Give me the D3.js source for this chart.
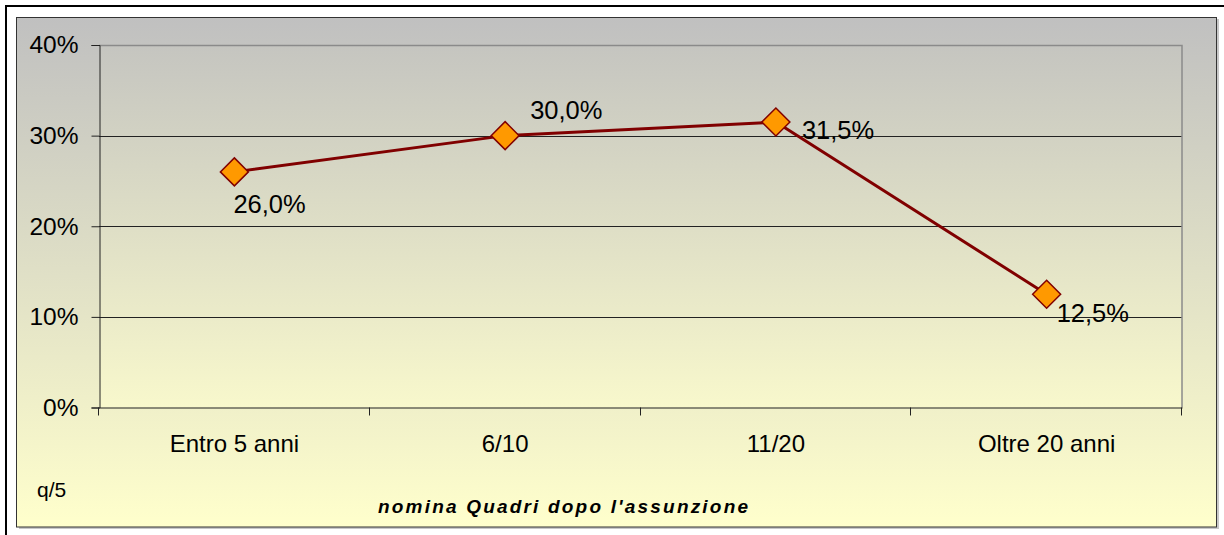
<!DOCTYPE html>
<html><head><meta charset="utf-8">
<script src="https://cdn.jsdelivr.net/npm/d3@7"></script>
<style>body{margin:0;background:#fff;}svg{display:block;}</style>
</head><body>
<script>
const categories = ["Entro 5 anni", "6/10", "11/20", "Oltre 20 anni"];
const values = [26.0, 30.0, 31.5, 12.5];
const dataLabels = ["26,0%", "30,0%", "31,5%", "12,5%"];
const yTicks = [0, 10, 20, 30, 40];
const yTickLabels = ["0%", "10%", "20%", "30%", "40%"];
const titleText = "nomina Quadri dopo l'assunzione";
const noteText = "q/5";

const FONT = "Liberation Sans, Arial, sans-serif";
const W = 1224, H = 535;
const svg = d3.select("body").append("svg").attr("width", W).attr("height", H);
const defs = svg.append("defs");
const g1 = defs.append("linearGradient").attr("id","bgGrad").attr("x1",0).attr("y1",0).attr("x2",0).attr("y2",1);
g1.append("stop").attr("offset","0%").attr("stop-color","#c0c0c0");
g1.append("stop").attr("offset","100%").attr("stop-color","#ffffcc");
const g2 = defs.append("linearGradient").attr("id","plotGrad").attr("x1",0).attr("y1",0).attr("x2",0).attr("y2",1);
g2.append("stop").attr("offset","0%").attr("stop-color","#c5c5c0");
g2.append("stop").attr("offset","100%").attr("stop-color","#f8f8cc");

// outer black frame
svg.append("rect").attr("x",6).attr("y",6).attr("width",W+10).attr("height",H+10)
  .attr("fill","none").attr("stroke","#000").attr("stroke-width",2);

// chart area shadow + area
svg.append("rect").attr("x",19).attr("y",19).attr("width",1200).attr("height",510).attr("fill","#c8c8c8");
svg.append("rect").attr("x",16.5).attr("y",17.5).attr("width",1200).attr("height",509.5)
  .attr("fill","url(#bgGrad)").attr("stroke","#333").attr("stroke-width",1);

const m = {left:99, right:1182, top:45, bottom:407.5};
const x = d3.scaleBand().domain(categories).range([m.left, m.right]).padding(0);
const y = d3.scaleLinear().domain([0,40]).range([m.bottom, m.top]);

svg.append("rect").attr("x",m.left).attr("y",m.top).attr("width",m.right-m.left).attr("height",m.bottom-m.top)
  .attr("fill","url(#plotGrad)");

// gridlines
svg.append("g").selectAll("line").data(yTicks.filter(d=>d>0 && d<40)).join("line")
  .attr("x1",m.left).attr("x2",m.right).attr("y1",d=>Math.round(y(d))+0.5).attr("y2",d=>Math.round(y(d))+0.5)
  .attr("stroke","#222").attr("stroke-width",1);
// plot border top/right gray
svg.append("path").attr("d",`M${m.left},${m.top+0.5}H${m.right}V${m.bottom}`)
  .attr("fill","none").attr("stroke","#8a8a8a").attr("stroke-width",1.5);

// y axis
const yAxis = d3.axisLeft(y).tickValues(yTicks).tickSize(8).tickPadding(13)
  .tickFormat((d,i)=>yTickLabels[i]);
const ya = svg.append("g").attr("transform",`translate(${m.left+0.5},0)`).call(yAxis);
ya.select(".domain").attr("stroke","#222");
ya.selectAll(".tick line").attr("stroke","#222");
ya.selectAll("text").attr("font-family",FONT).attr("font-size",24.5).attr("fill","#000");

// x axis
const xa = svg.append("g").attr("transform",`translate(0,${m.bottom})`)
  .call(d3.axisBottom(x).tickSize(0));
xa.select(".domain").attr("stroke","#222");
xa.selectAll("text").attr("font-family",FONT).attr("font-size",24).attr("fill","#000")
  .attr("dy",null).attr("y",44);
const bounds = categories.map(c=>x(c)).concat([m.right]);
xa.append("g").selectAll("line").data(bounds).join("line")
  .attr("x1",d=>Math.round(d)-0.5).attr("x2",d=>Math.round(d)-0.5).attr("y1",0).attr("y2",8).attr("stroke","#222");

// line
const cx = c=>x(c)+x.bandwidth()/2;
const line = d3.line().x((d,i)=>cx(categories[i])).y(d=>y(d));
svg.append("path").datum(values).attr("d",line).attr("fill","none").attr("stroke","#800000").attr("stroke-width",3);

// markers
const s = 14;
svg.append("g").selectAll("path").data(values).join("path")
  .attr("d",(d,i)=>{const px=cx(categories[i]), py=y(d); return `M${px},${py-s}L${px+s},${py}L${px},${py+s}L${px-s},${py}Z`;})
  .attr("fill","#ff9900").attr("stroke","#800000").attr("stroke-width",1.5);

// data labels
const offs = [[-1,41],[25,-16.5],[26,17],[10,28]];
svg.append("g").selectAll("text").data(values).join("text")
  .attr("x",(d,i)=>cx(categories[i])+offs[i][0]).attr("y",(d,i)=>y(d)+offs[i][1])
  .attr("font-family",FONT).attr("font-size",25.5).attr("fill","#000")
  .text((d,i)=>dataLabels[i]);

// note
svg.append("text").attr("x",37).attr("y",497).attr("font-family",FONT)
  .attr("font-size",21).text(noteText);
// title
const t = svg.append("text").attr("x",378).attr("y",513)
  .attr("font-family",FONT).attr("font-size",19).attr("font-weight","bold")
  .attr("font-style","italic").text(titleText);
const nat = t.node().getComputedTextLength();
const ls = (370 - nat) / (titleText.length - 1);
t.attr("letter-spacing", ls);
</script>
</body></html>
